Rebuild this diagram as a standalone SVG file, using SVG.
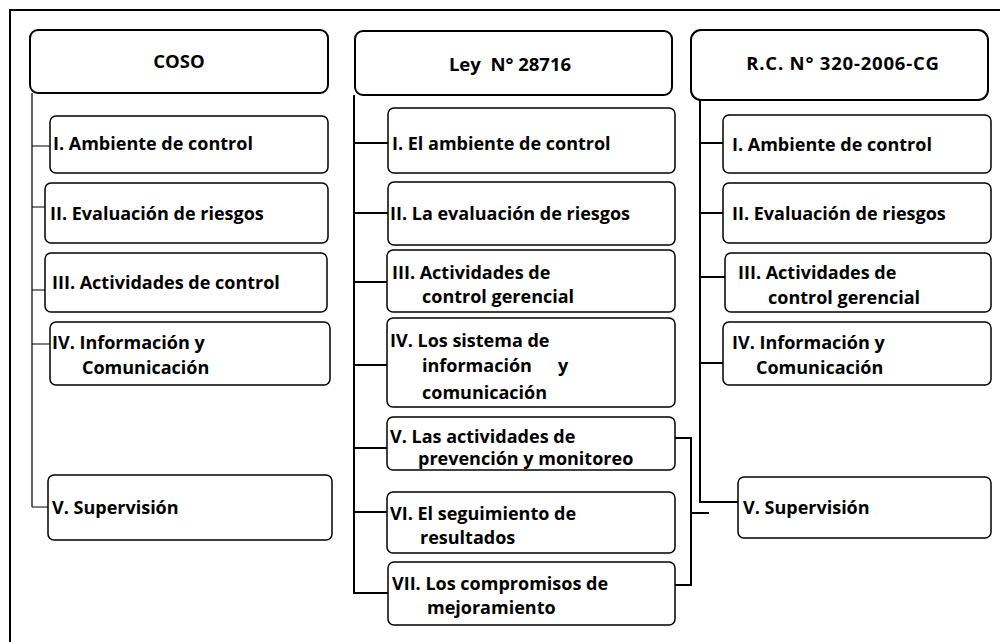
<svg xmlns="http://www.w3.org/2000/svg" width="1000" height="642" viewBox="0 0 1000 642">
<style>
.bg{fill:#fff}
.frame{fill:none;stroke:#000;stroke-width:2}
.hdr{fill:#fff;stroke:#000;stroke-width:2}
.box{fill:#fff;stroke:#000;stroke-width:1.5}
.ln{fill:none;stroke:#000;stroke-width:2}
.thin{fill:none;stroke:#000;stroke-width:1.2}
text{font-family:"Open Sans","Liberation Sans",sans-serif;font-weight:bold;fill:#000}
.h{font-size:18.5px;text-anchor:middle;white-space:pre}
.t{font-size:18px;white-space:pre}
</style>
<rect class="bg" x="0" y="0" width="1000" height="642"/>
<path class="frame" d="M10,642 V10 H1000"/>

<g id="connectors">
  <path class="thin" d="M32,93 V507 M32,146 H50 M32,207 H45 M32,290 H45 M32,344 H50 M32,507 H48"/>
  <path class="ln" d="M354,95 V593 H388 M354,143 H388 M354,213 H388 M354,282 H387 M354,365 H387 M354,448 H387 M354,512 H387"/>
  <path class="ln" d="M700,100 V502 H738 M700,143 H723 M700,213 H723 M700,277 H725 M700,363 H723"/>
  <path class="ln" d="M675,438 H691 V585 H675 M691,513 H709"/>
</g>

<g id="coso">
  <rect class="hdr" x="30" y="30" width="298" height="63" rx="8"/>
  <text class="h" x="179" y="68">COSO</text>
</g>
<g id="coso-1">
  <rect class="box" x="50" y="116" width="278" height="57" rx="6"/>
  <text class="t" x="53" y="150">I. Ambiente de control</text>
</g>
<g id="coso-2">
  <rect class="box" x="45" y="183" width="283" height="60" rx="6"/>
  <text class="t" x="50" y="220">II. Evaluación de riesgos</text>
</g>
<g id="coso-3">
  <rect class="box" x="45" y="253" width="282" height="59" rx="6"/>
  <text class="t" x="52" y="289">III. Actividades de control</text>
</g>
<g id="coso-4">
  <rect class="box" x="50" y="322" width="280" height="63" rx="6"/>
  <text class="t" x="52" y="349">IV. Información y</text>
  <text class="t" x="82" y="374">Comunicación</text>
</g>
<g id="coso-5">
  <rect class="box" x="48" y="475" width="284" height="65" rx="6"/>
  <text class="t" x="52" y="514">V. Supervisión</text>
</g>

<g id="ley">
  <rect class="hdr" x="355" y="31" width="317" height="64" rx="8"/>
  <text class="h" x="510" y="71">Ley  N° 28716</text>
</g>
<g id="ley-1">
  <rect class="box" x="388" y="108" width="287" height="65" rx="6"/>
  <text class="t" x="392" y="150">I. El ambiente de control</text>
</g>
<g id="ley-2">
  <rect class="box" x="388" y="182" width="287" height="63" rx="6"/>
  <text class="t" x="390" y="220">II. La evaluación de riesgos</text>
</g>
<g id="ley-3">
  <rect class="box" x="387" y="250" width="288" height="62" rx="6"/>
  <text class="t" x="392" y="279">III. Actividades de</text>
  <text class="t" x="422" y="303">control gerencial</text>
</g>
<g id="ley-4">
  <rect class="box" x="387" y="318" width="288" height="89" rx="6"/>
  <text class="t" x="390" y="347">IV. Los sistema de</text>
  <text class="t" x="422" y="372">información</text>
  <text class="t" x="558" y="372">y</text>
  <text class="t" x="422" y="399">comunicación</text>
</g>
<g id="ley-5">
  <rect class="box" x="387" y="417" width="288" height="53" rx="6"/>
  <text class="t" x="390" y="443">V. Las actividades de</text>
  <text class="t" x="418" y="465">prevención y monitoreo</text>
</g>
<g id="ley-6">
  <rect class="box" x="387" y="492" width="288" height="61" rx="6"/>
  <text class="t" x="390" y="520">VI. El seguimiento de</text>
  <text class="t" x="420" y="544">resultados</text>
</g>
<g id="ley-7">
  <rect class="box" x="388" y="562" width="287" height="63" rx="6"/>
  <text class="t" x="392" y="590">VII. Los compromisos de</text>
  <text class="t" x="427" y="614">mejoramiento</text>
</g>

<g id="rc">
  <rect class="hdr" x="691" y="30" width="297" height="70" rx="10"/>
  <text class="h" x="843" y="70" letter-spacing="0.8">R.C. N° 320-2006-CG</text>
</g>
<g id="rc-1">
  <rect class="box" x="723" y="115" width="268" height="58" rx="6"/>
  <text class="t" x="732" y="151">I. Ambiente de control</text>
</g>
<g id="rc-2">
  <rect class="box" x="723" y="183" width="268" height="60" rx="6"/>
  <text class="t" x="732" y="220">II. Evaluación de riesgos</text>
</g>
<g id="rc-3">
  <rect class="box" x="725" y="253" width="266" height="59" rx="6"/>
  <text class="t" x="738" y="279">III. Actividades de</text>
  <text class="t" x="768" y="304">control gerencial</text>
</g>
<g id="rc-4">
  <rect class="box" x="723" y="322" width="268" height="63" rx="6"/>
  <text class="t" x="732" y="349">IV. Información y</text>
  <text class="t" x="756" y="374">Comunicación</text>
</g>
<g id="rc-5">
  <rect class="box" x="738" y="477" width="253" height="61" rx="6"/>
  <text class="t" x="743" y="514">V. Supervisión</text>
</g>
</svg>
